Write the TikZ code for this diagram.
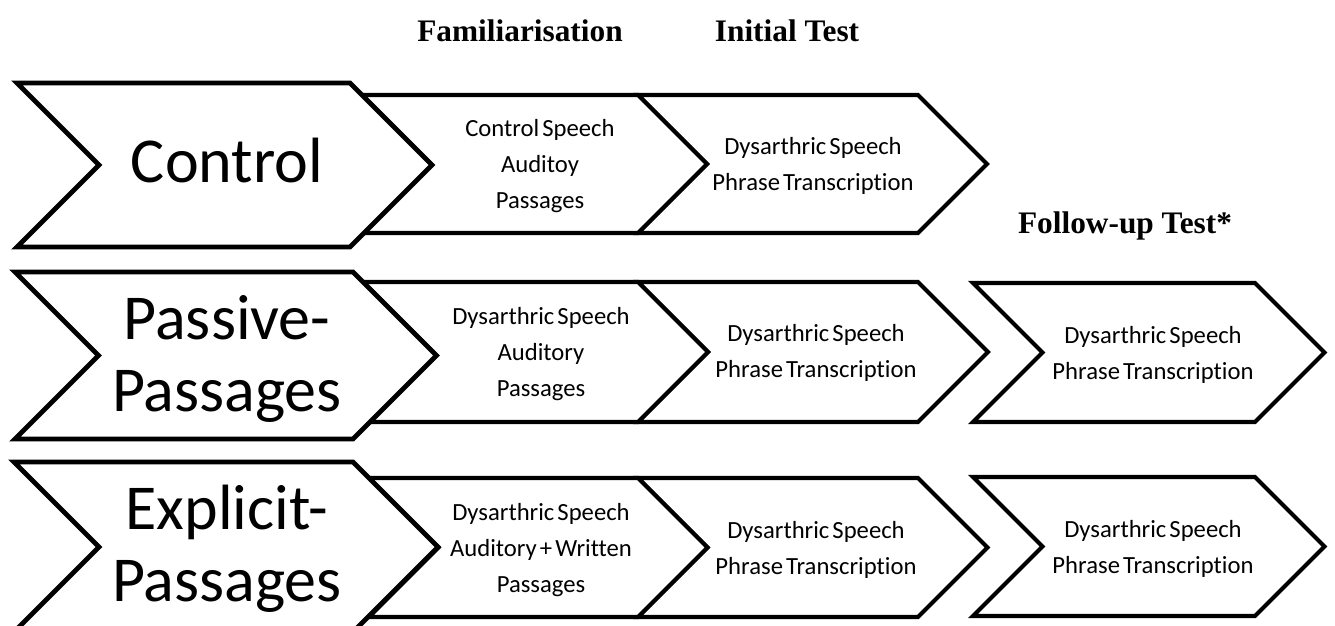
\documentclass[tikz,border=0pt]{standalone}
\usepackage{fontspec}
\setmainfont{Carlito}[Ligatures=NoCommon]
\newfontfamily\hdrfont{Liberation Serif}
\newfontfamily\smallfont[WordSpace=0.55,Ligatures=NoCommon]{Carlito}
\newcommand\chev[5][smallchev]{\draw[#1] (#2,#3) -- ++(#4,0) -- ++({#5/2},{#5/2}) -- ++({-#5/2},{#5/2}) -- ++(-#4,0) -- ++({#5/2},{-#5/2}) -- cycle;}
\begin{document}
\begin{tikzpicture}[x=0.75pt,y=-0.75pt,
  bigchev/.style={draw=black,fill=white,line width=3.6pt,line join=miter},
  smallchev/.style={draw=black,fill=white,line width=3.1pt,line join=miter},
  bigtxt/.style={font=\fontsize{48}{54}\selectfont,align=center,inner sep=0pt},
  smalltxt/.style={font=\smallfont\fontsize{18.5}{27}\selectfont,align=center,inner sep=0pt},
  hdr/.style={font=\hdrfont\bfseries\fontsize{23.5}{28}\selectfont,inner sep=0pt,anchor=base}]
\useasboundingbox (0,0) rectangle (1335,625);
% headers
\node[hdr] (h1) at (520,41) {Familiarisation};
\node[hdr] (h2) at (787,41) {Initial Test};
\node[hdr] (h3) at (1125,233) {Follow-up Test*};
% row 1
\chev{638}{95}{280}{138}
\chev{362}{95}{276}{138}
\chev[bigchev]{17}{83}{333}{164}
% row 2
\chev{973}{283}{282}{139}
\chev{638}{282}{280}{140}
\chev{363}{282}{275}{140}
\chev[bigchev]{15}{272}{338}{167}
% row 3
\chev{973}{477}{282}{139}
\chev{638}{478}{280}{139}
\chev{369}{478}{269}{139}
\chev[bigchev]{14}{462}{339}{170}
% big labels
\node[bigtxt,anchor=base] (g1) at (227,182) {Control};
\node[bigtxt] (g2) at (227,359) {Passive-\\Passages};
\node[bigtxt] (g3) at (227,549) {Explicit-\\Passages};
% small labels
\node[smalltxt] (f1) at (540,166.5) {Control Speech\\Auditoy\\Passages};
\node[smalltxt] (i1) at (813,165.5) {Dysarthric Speech\\Phrase Transcription};
\node[smalltxt] (f2) at (541,354.5) {Dysarthric Speech\\Auditory\\Passages};
\node[smalltxt] (i2) at (816,352.5) {Dysarthric Speech\\Phrase Transcription};
\node[smalltxt] (u2) at (1153,354.5) {Dysarthric Speech\\Phrase Transcription};
\node[smalltxt] (f3) at (541,550.5) {Dysarthric Speech\\Auditory + Written\\Passages};
\node[smalltxt] (i3) at (816,550) {Dysarthric Speech\\Phrase Transcription};
\node[smalltxt] (u3) at (1153,549) {Dysarthric Speech\\Phrase Transcription};
\end{tikzpicture}
\end{document}
